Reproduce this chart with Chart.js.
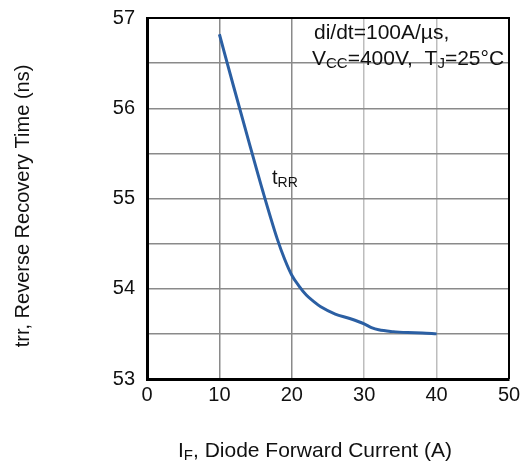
<!DOCTYPE html>
<html>
<head>
<meta charset="utf-8">
<script src="https://cdn.jsdelivr.net/npm/chart.js@4"></script>
<style>
  html, body { margin: 0; padding: 0; background: #fff; }
  #wrap { width: 523px; height: 471px; position: relative; }
</style>
</head>
<body>
<div id="wrap"><canvas id="trrChart"></canvas></div>
<script>
// data
const currentA = [10, 12, 14, 16, 18, 19, 20, 21, 22, 23, 24, 26, 28, 30, 31, 32, 34, 36, 38, 40];
const trrNs = [56.82, 56.23, 55.65, 55.08, 54.55, 54.33, 54.15, 54.03, 53.93, 53.86, 53.80, 53.72, 53.67, 53.61, 53.57, 53.545, 53.525, 53.515, 53.51, 53.50];
const xTicks = [0, 10, 20, 30, 40, 50];
const yTicks = [53, 54, 55, 56, 57];

const FONT = '"Liberation Sans", Arial, sans-serif';

// teks dengan subscript: [[teks, sub?], ...]
function drawRich(ctx, parts, x, y, size, align) {
    const subSize = Math.round(size * 0.72);
    let total = 0;
    parts.forEach(p => {
        ctx.font = (p[1] ? subSize : size) + 'px ' + FONT;
        total += ctx.measureText(p[0]).width;
    });
    let cx = align === 'center' ? x - total / 2 : x;
    ctx.textAlign = 'left';
    ctx.textBaseline = 'alphabetic';
    parts.forEach(p => {
        ctx.font = (p[1] ? subSize : size) + 'px ' + FONT;
        ctx.fillText(p[0], cx, p[1] ? y + 3 : y);
        cx += ctx.measureText(p[0]).width;
    });
}

const labelPlugin = {
    id: 'labels',
    afterDraw(chart) {
        const ctx = chart.ctx;
        const a = chart.chartArea;
        ctx.save();
        // bingkai atas & kanan
        ctx.strokeStyle = '#000';
        ctx.lineWidth = 2;
        ctx.beginPath();
        ctx.moveTo(a.left, a.top);
        ctx.lineTo(a.right, a.top);
        ctx.lineTo(a.right, a.bottom);
        ctx.stroke();

        ctx.fillStyle = '#111';
        drawRich(ctx, [['di/dt=100A/\u00b5s,']], 314, 39, 21, 'left');
        drawRich(ctx, [['V'], ['CC', 1], ['=400V,  T'], ['J', 1], ['=25\u00b0C']], 312, 65, 21, 'left');
        drawRich(ctx, [['t'], ['RR', 1]], 272, 184, 20, 'left');

        // judul sumbu
        drawRich(ctx, [['I'], ['F', 1], [', Diode Forward Current (A)']], 315, 457, 21, 'center');
        ctx.translate(29, 206);
        ctx.rotate(-Math.PI / 2);
        drawRich(ctx, [['trr, Reverse Recovery Time (ns)']], 0, 0, 20, 'center');
        ctx.restore();
    }
};

new Chart(document.getElementById('trrChart'), {
    type: 'line',
    data: {
        datasets: [{
            data: currentA.map((x, i) => ({ x: x, y: trrNs[i] })),
            borderColor: '#2b5fa3',
            borderWidth: 3,
            pointRadius: 0,
            cubicInterpolationMode: 'monotone',
            fill: false
        }]
    },
    options: {
        responsive: true,
        maintainAspectRatio: false,
        animation: false,
        layout: { padding: { top: 18, right: 14, left: 0, bottom: 0 } },
        plugins: { legend: { display: false }, tooltip: { enabled: false } },
        scales: {
            x: {
                type: 'linear',
                min: 0, max: 50,
                afterBuildTicks: s => { s.ticks = xTicks.map(v => ({ value: v })); },
                afterFit: s => { s.height = 92; s.paddingLeft = 0; s.paddingRight = 0; },
                ticks: { color: '#111', font: { family: FONT, size: 20 }, padding: 4, maxRotation: 0 },
                grid: {
                    drawTicks: false,
                    lineWidth: 1.5,
                    color: c => (c.tick && c.tick.value >= 30) ? '#bdbdbd' : '#8a8a8a'
                },
                border: { color: '#000', width: 3 }
            },
            y: {
                min: 53, max: 57,
                afterBuildTicks: s => {
                    const t = [];
                    for (let v = 53; v <= 57.001; v += 0.5) t.push({ value: Math.round(v * 10) / 10 });
                    s.ticks = t;
                },
                afterFit: s => { s.width = 147; s.paddingTop = 0; s.paddingBottom = 0; },
                ticks: {
                    color: '#111', font: { family: FONT, size: 20 }, padding: 12,
                    callback: v => yTicks.includes(v) ? String(v) : ''
                },
                grid: { drawTicks: false, lineWidth: 1.5, color: '#8a8a8a' },
                border: { color: '#000', width: 3 }
            }
        }
    },
    plugins: [labelPlugin]
});
</script>
</body>
</html>
